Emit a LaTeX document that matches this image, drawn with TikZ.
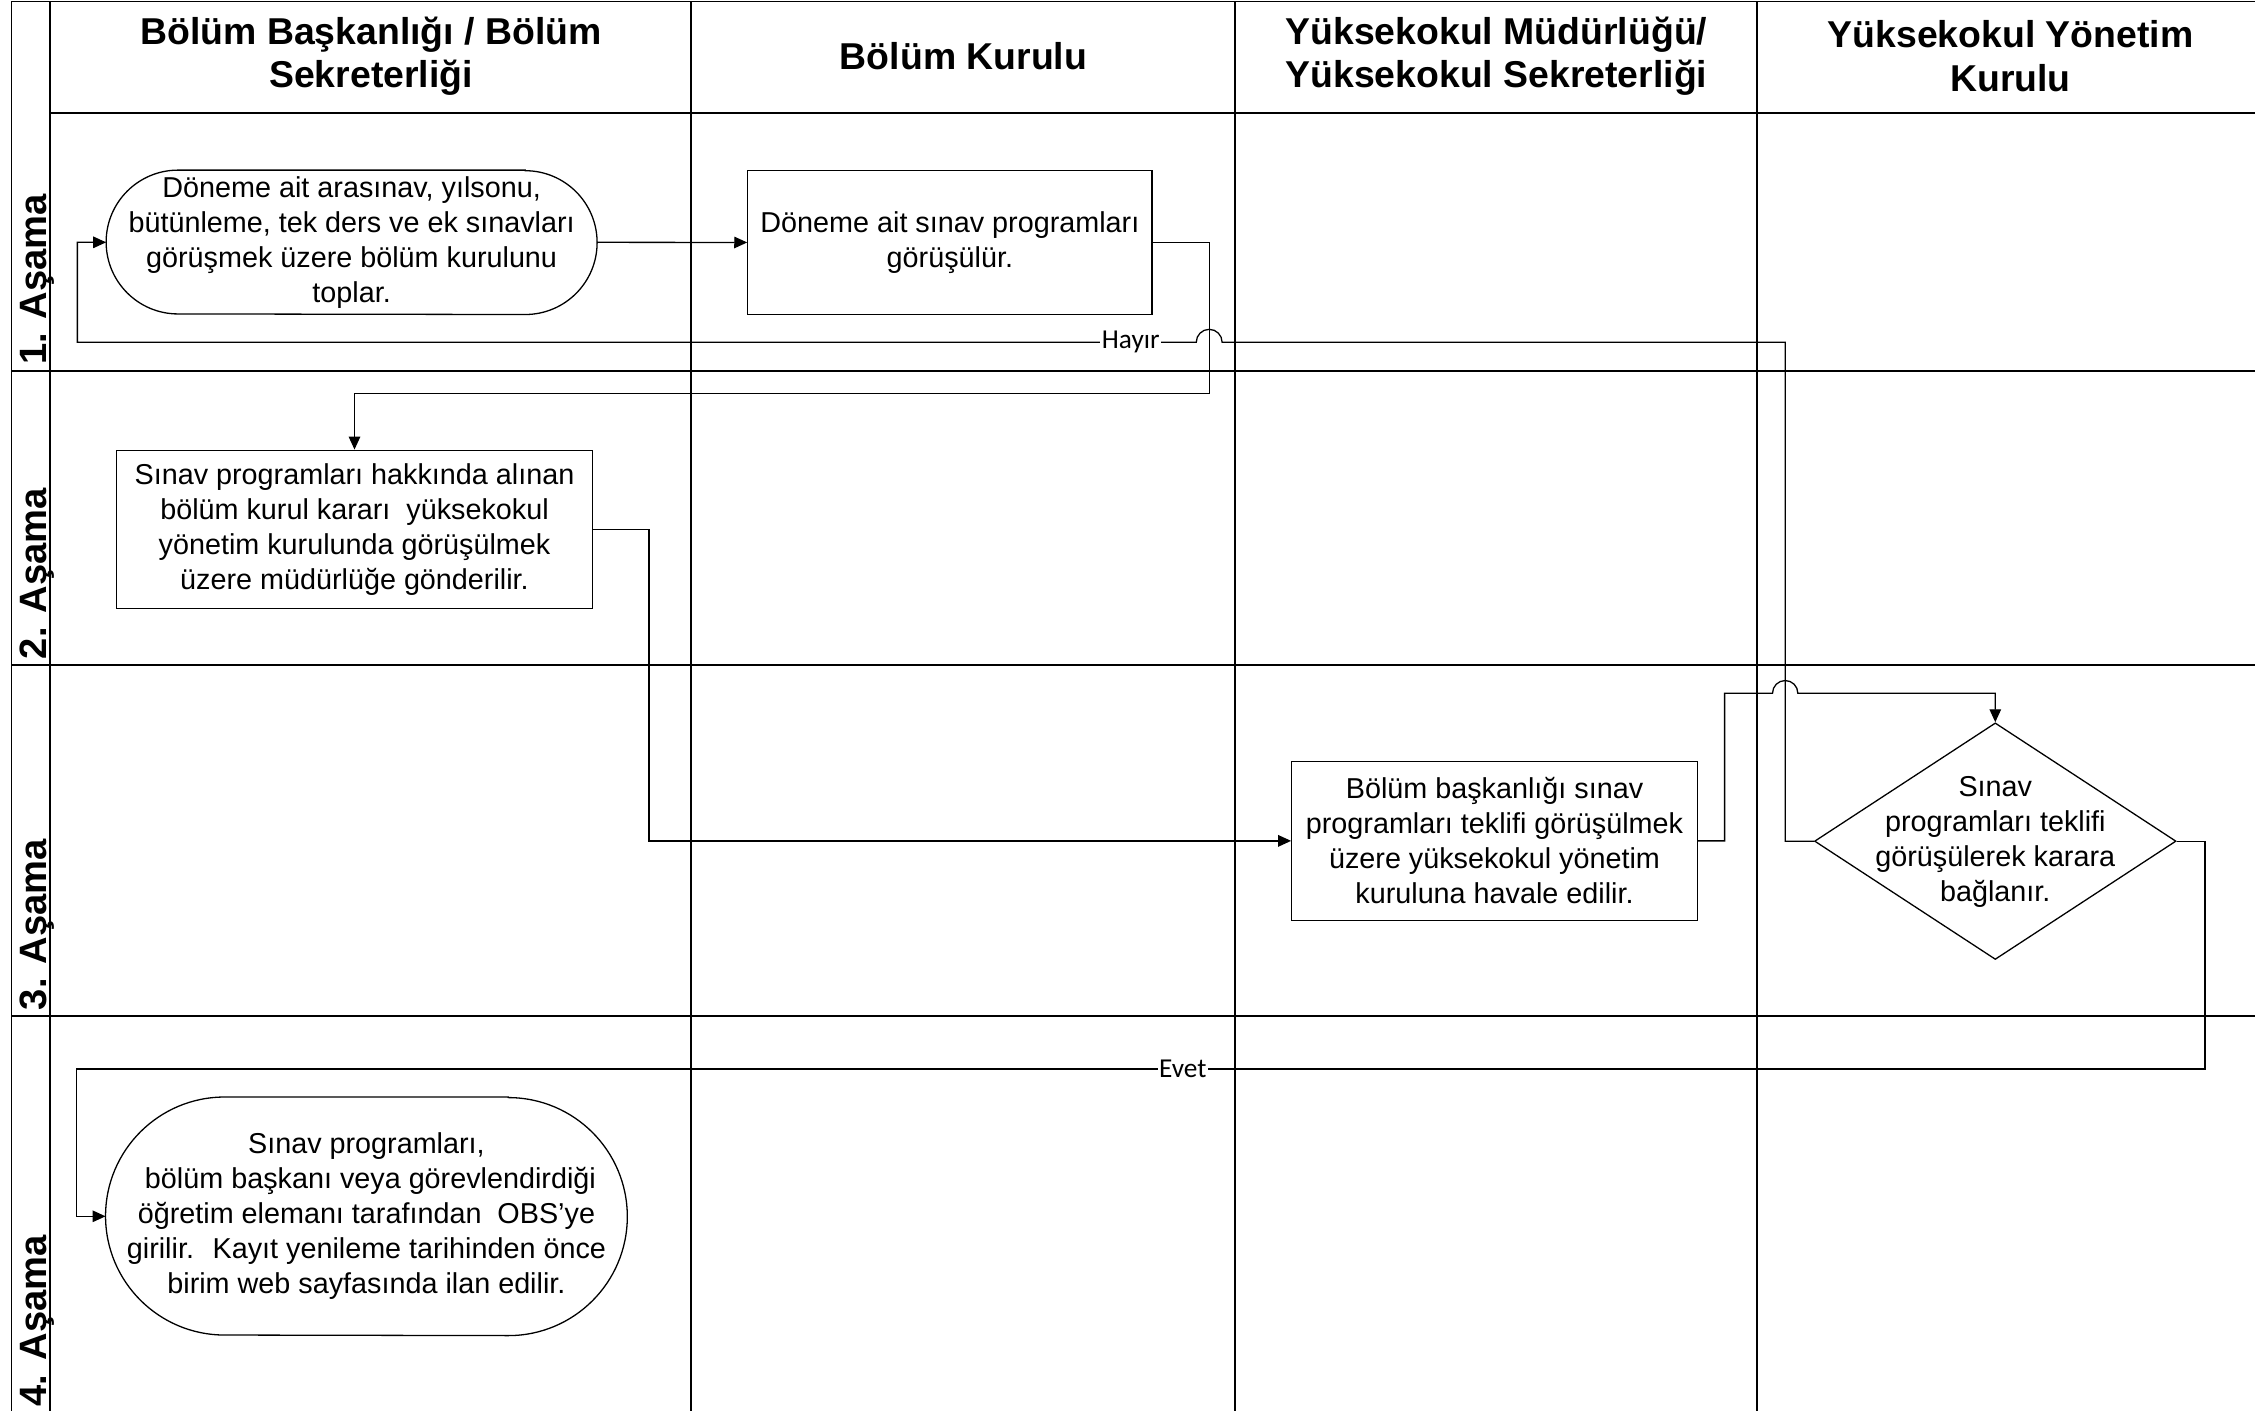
\documentclass[tikz,border=0pt]{standalone}
\usepackage{fontspec}
\setmainfont{Liberation Sans}
\newfontfamily\lblfont{Carlito}
\usetikzlibrary{arrows.meta,shapes.geometric}
\newcommand\myBody{\fontsize{20}{24.4}\selectfont}
\newcommand\myHead{\fontsize{26}{30}\selectfont\bfseries}
\newcommand\myLane{\fontsize{26.5}{30}\selectfont\bfseries}
\newcommand\myLbl{\lblfont\fontsize{19}{22}\selectfont}
\begin{document}
\begin{tikzpicture}[x=1pt,y=1pt,
  frame/.style={line width=1.2pt},
  conn/.style={line width=0.9pt},
  arr/.style={conn,-{Triangle[length=9pt,width=8pt]}},
  box/.style={draw,line width=0.9pt,rectangle,inner sep=0pt,align=center,font=\myBody},
  ovaltext/.style={rectangle,inner sep=0pt,align=center,font=\myBody},
  outline/.style={line width=0.9pt},
  dia/.style={draw,line width=0.9pt,diamond,inner sep=0pt},
  head/.style={align=center,inner sep=0pt,font=\myHead},
  lane/.style={rotate=90,anchor=base west,inner sep=0pt,font=\myLane},
  lbl/.style={fill=white,inner sep=1pt,font=\myLbl}
]
\useasboundingbox (0,0) rectangle (1568,-981);
\fill[white] (0,0) rectangle (1568,-981);

% swimlane frame
\draw[frame] (8,-1) -- (1568,-1);
\draw[frame] (8,-1) -- (8,-981);
\draw[frame] (35,-1) -- (35,-981);
\draw[frame] (35,-78.5) -- (1568,-78.5);
\foreach \yy in {258,462.4,706.5} \draw[frame] (8,-\yy) -- (1568,-\yy);
\foreach \xx in {480.6,858.9,1221.8} \draw[frame] (\xx,-1) -- (\xx,-981);

% headers
\node[head] (h1) at (258,-39) {Bölüm Başkanlığı / Bölüm\\Sekreterliği};
\node[head] (h2) at (670,-39) {Bölüm Kurulu};
\node[head] (h3) at (1040.5,-39) {Yüksekokul Müdürlüğü/\\Yüksekokul Sekreterliği};
\node[head] (h4) at (1398,-39) {Yüksekokul Yönetim\\Kurulu};

% lane labels
\node[lane] (l1) at (32.5,-254) {1. Aşama};
\node[lane] (l2) at (32.5,-458.5) {2. Aşama};
\node[lane] (l3) at (32.5,-702.5) {3. Aşama};
\node[lane] (l4) at (32.5,-978) {4. Aşama};

% nodes
\node[ovaltext,minimum width=341pt,minimum height=100pt] (o1) at (244.5,-168.5)
  {Döneme ait arasınav, yılsonu,\\bütünleme, tek ders ve ek sınavları\\görüşmek üzere bölüm kurulunu\\toplar.};
\draw[outline] ([xshift=-50pt]o1.north east) -- ([xshift=50pt]o1.north west)
  arc[start angle=90,end angle=270,radius=50pt]
  -- ([xshift=-50pt]o1.south east) arc[start angle=-90,end angle=90,radius=50pt] -- cycle;

\node[box,minimum width=281pt,minimum height=100pt] (r2) at (660.5,-168.6)
  {Döneme ait sınav programları\\görüşülür.};

\node[box,minimum width=331pt,minimum height=110.3pt] (r3) at (246.5,-368.2)
  {Sınav programları hakkında alınan\\bölüm kurul kararı \ yüksekokul\\yönetim kurulunda görüşülmek\\üzere müdürlüğe gönderilir.};

\node[box,minimum width=282pt,minimum height=110.6pt] (r4) at (1039.2,-584.7)
  {Bölüm başkanlığı sınav\\programları teklifi görüşülmek\\üzere yüksekokul yönetim\\kuruluna havale edilir.};

\node[dia,minimum width=251.4pt,minimum height=164.5pt] (dec) at (1387.4,-584.9) {};
\node[ovaltext] (dect) at (1387.4,-585.5)
  {Sınav\\programları teklifi\\görüşülerek karara\\bağlanır.};

\node[ovaltext,minimum width=362.4pt,minimum height=165.5pt] (o6) at (254.8,-845.75)
  {Sınav programları,\\\ bölüm başkanı veya görevlendirdiği\\öğretim elemanı tarafından \ OBS’ye\\girilir. \ Kayıt yenileme tarihinden önce\\birim web sayfasında ilan edilir.};
\draw[outline] ([xshift=-82.75pt]o6.north east) -- ([xshift=82.75pt]o6.north west)
  arc[start angle=90,end angle=270,radius=82.75pt]
  -- ([xshift=-82.75pt]o6.south east) arc[start angle=-90,end angle=90,radius=82.75pt] -- cycle;

% connectors
\draw[arr] (o1.east) -- (r2.west);
\draw[arr] (r2.east) -| (840.8,-273.5) -| (r3.north);
\draw[arr] (r3.east) -| (451.3,-584.7) -- (r4.west);
\draw[arr] (r4.east) -| (1199.2,-482) -- (1232.5,-482) arc[start angle=180,end angle=0,radius=8.8] -| (dec.north);
\draw[arr] (dec.west) -| (1241.3,-238) -- (849.8,-238) arc[start angle=0,end angle=180,radius=9] -- (53.8,-238) |- (o1.west);
\node[lbl] (hay) at (786.3,-238) {Hayır};
\draw[arr] (dec.east) -| (1533.2,-743.4) -| (53.4,-845.75) -- (o6.west);
\node[lbl] (evt) at (822.5,-743.4) {Evet};
\end{tikzpicture}
\end{document}
